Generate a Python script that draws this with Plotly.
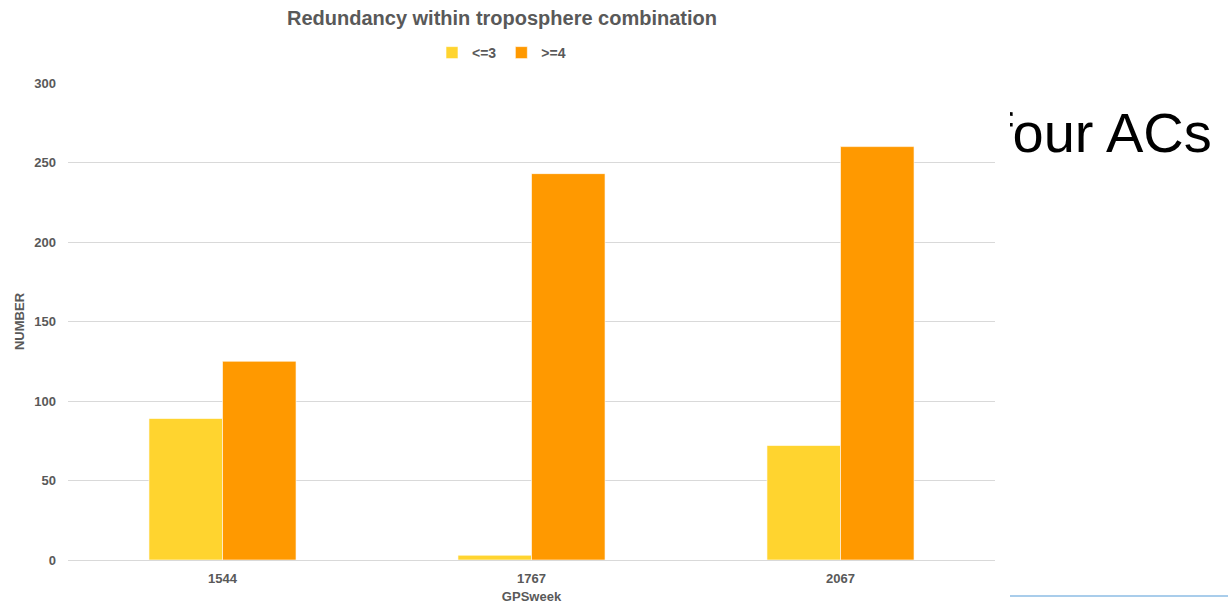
import plotly.graph_objects as go

# Data
categories = ["1544", "1767", "2067"]
series_names = ["<=3", ">=4"]
low_values = [89, 3, 72]
high_values = [125, 243, 260]
y_ticks = [0, 50, 100, 150, 200, 250, 300]

W, H = 1228, 604
PL, PR, PT, PB = 68, 995, 83, 560  # plot area in px
X2_START = 980

YELLOW = "#FFD42F"
ORANGE = "#FF9900"
GRAY = "#595959"
FONT = "Liberation Sans, Arial, sans-serif"

fig = go.Figure()
fig.add_trace(go.Bar(x=categories, y=low_values, name=series_names[0],
                     marker=dict(color=YELLOW, line=dict(color="rgba(255,255,255,0.6)", width=1))))
fig.add_trace(go.Bar(x=categories, y=high_values, name=series_names[1],
                     marker=dict(color=ORANGE, line=dict(color="rgba(255,255,255,0.6)", width=1))))

# Background slide text, partly hidden behind the chart
fig.add_trace(go.Scatter(x=[17], y=[138], text=["four ACs"], mode="text",
                         textposition="middle right", cliponaxis=False,
                         textfont=dict(family=FONT, size=56, color="#000000"),
                         xaxis="x2", yaxis="y2", showlegend=False, hoverinfo="skip"))

fig.update_layout(
    width=W, height=H,
    margin=dict(l=0, r=0, t=0, b=0),
    paper_bgcolor="white", plot_bgcolor="rgba(0,0,0,0)",
    font=dict(family=FONT, color=GRAY),
    barmode="group", bargap=0.524, bargroupgap=0,
    title=dict(text="<b>Redundancy within troposphere combination</b>",
               x=502 / W, xanchor="center", y=1 - 18 / H, yanchor="middle",
               font=dict(family=FONT, size=20, color=GRAY)),
    legend=dict(orientation="h", x=432 / W, xanchor="left", y=1 - 53 / H, yanchor="middle",
                font=dict(family=FONT, size=14, color=GRAY, weight="bold"),
                bgcolor="rgba(0,0,0,0)", itemwidth=30, tracegroupgap=0),
    xaxis=dict(domain=[PL / W, PR / W], showgrid=False, showline=True, linecolor="#D9D9D9",
               linewidth=1, ticks="", automargin=False,
               tickfont=dict(family=FONT, size=13, color=GRAY, weight="bold"),
               ticklabelstandoff=6,
               title=dict(text="<b>GPSweek</b>", standoff=7,
                          font=dict(family=FONT, size=13, color=GRAY))),
    yaxis=dict(domain=[(H - PB) / H, (H - PT) / H], range=[0, 300], tickvals=y_ticks,
               showgrid=True, gridcolor="#D9D9D9", gridwidth=1, zeroline=True,
               zerolinecolor="#D9D9D9", zerolinewidth=1, showline=False, ticks="",
               automargin=False, ticklabelstandoff=11,
               tickfont=dict(family=FONT, size=13, color=GRAY, weight="bold"),
               title=dict(text="<b>NUMBER</b>", standoff=6,
                          font=dict(family=FONT, size=13, color=GRAY))),
    xaxis2=dict(domain=[X2_START / W, 1], range=[0, W - X2_START], visible=False, fixedrange=True),
    yaxis2=dict(domain=[0, 1], range=[H, 0], visible=False, fixedrange=True, anchor="x2"),
)

# white edge of the chart image hiding the start of the slide text
fig.add_shape(type="rect", xref="paper", yref="paper", layer="above",
              x0=996 / W, x1=1010 / W, y0=1 - 175 / H, y1=1 - 95 / H,
              fillcolor="white", line=dict(width=0))

# thin blue line of the underlying slide (bottom right)
fig.add_shape(type="line", xref="paper", yref="paper",
              x0=1010 / W, x1=1, y0=1 - 596 / H, y1=1 - 596 / H,
              line=dict(color="#A9CDEB", width=2))

fig.write_html("out.html", config={"displayModeBar": False},
               post_script="document.body.style.margin='0';document.body.style.padding='0';")
